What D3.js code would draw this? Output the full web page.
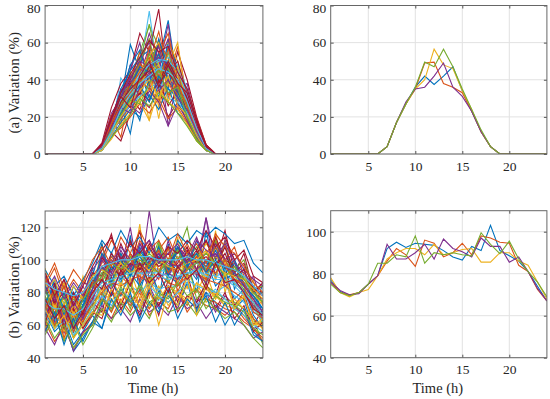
<!DOCTYPE html>
<html><head><meta charset="utf-8">
<script src="https://cdn.jsdelivr.net/npm/d3@7"></script>
<style>body{margin:0;background:#fff}svg{display:block;font-family:"Liberation Serif","Times New Roman",serif}text{fill:#262626}</style>
</head><body><svg id="c" width="550" height="399"></svg>
<script>
const hours = d3.range(1, 25);
const colors = ["#0072BD","#D95319","#EDB120","#7E2F8E","#77AC30","#4DBEEE","#A2142F"];
const xTicks = [5,10,15,20];
const yTicksA = [0,20,40,60,80];
const yTicksBL = [40,60,80,100,120];
const yTicksBR = [40,60,80,100];

// (a) many daily PV variation profiles
const seriesA = [
[0,0,0,0,0,0,3,14,28,59,45,30,50,72,38,24,12,3,0,0,0,0,0,0],
[0,0,0,0,0,0,4,20,9,35,48,62,55,40,58,30,14,2,0,0,0,0,0,0],
[0,0,0,0,0,0,2,10,25,33,40,45,19,47,30,22,10,2,0,0,0,0,0,0],
[0,0,0,0,0,0,5,18,35,30,52,60,45,70,35,38,16,4,0,0,0,0,0,0],
[0,0,0,0,0,0,3,16,22,38,55,69,58,48,42,28,8,3,0,0,0,0,0,0],
[0,0,0,0,0,0,2,12,41,33,45,77,40,60,30,24,12,2,0,0,0,0,0,0],
[0,0,0,0,0,0,6,25,38,45,65,55,78,35,55,40,20,5,0,0,0,0,0,0],
[0,0,0,0,0,0,4,15,26,11,38,49,30,62,45,26,13,3,0,0,0,0,0,0],
[0,0,0,0,0,0,3,14,32,42,30,50,66,44,36,22,11,2,0,0,0,0,0,0],
[0,0,0,0,0,0,2,13,20,30,35,28,55,60,50,33,15,3,0,0,0,0,0,0],
[0,0,0,0,0,0,5,22,30,48,42,58,50,38,47,29,17,4,0,0,0,0,0,0],
[0,0,0,0,0,0,4,17,24,36,45,40,52,55,33,19,7,2,0,0,0,0,0,0],
[0,0,0,0,0,0,3,12,30,38,46,50,52,50,44,30,15,3,0,0,0,0,0,0],
[0,0,0,0,0,0,3,12,7,22,30,25,35,20,28,18,10,3,0,0,0,0,0,0],
[0,0,0,0,0,0,2,11,23,29,18,42,35,58,30,27,11,2,0,0,0,0,0,0],
[0,0,0,0,0,0,5,21,16,40,55,45,60,52,28,35,19,5,0,0,0,0,0,0],
[0,0,0,0,0,0,3,12,28,25,40,18,50,48,60,26,13,2,0,0,0,0,0,0],
[0,0,0,0,0,0,4,17,33,45,60,36,55,15,42,30,15,3,0,0,0,0,0,0],
[0,0,0,0,0,0,3,13,18,32,50,70,45,40,30,24,9,3,0,0,0,0,0,0],
[0,0,0,0,0,0,2,10,28,35,30,45,48,42,35,28,14,2,0,0,0,0,0,0],
[0,0,0,0,0,0,4,14,22,30,24,36,28,40,26,20,12,3,0,0,0,0,0,0],
[0,0,0,0,0,0,4,18,35,45,52,56,40,50,36,25,12,3,0,0,0,0,0,0],
[0,0,0,0,0,0,3,15,30,28,43,38,62,30,45,26,13,3,0,0,0,0,0,0],
[0,0,0,0,0,0,2,9,22,36,28,52,25,56,38,22,10,2,0,0,0,0,0,0],
[0,0,0,0,0,0,5,20,28,39,47,65,50,62,32,33,16,4,0,0,0,0,0,0],
[0,0,0,0,0,0,3,14,26,44,35,48,60,38,47,25,8,2,0,0,0,0,0,0],
[0,0,0,0,0,0,3,13,32,40,44,47,50,52,48,35,16,3,0,0,0,0,0,0],
[0,0,0,0,0,0,5,18,30,40,50,38,60,44,50,32,18,5,0,0,0,0,0,0],
[0,0,0,0,0,0,3,13,27,33,41,47,36,45,27,20,11,2,0,0,0,0,0,0],
[0,0,0,0,0,0,4,18,24,31,49,40,54,65,40,29,15,3,0,0,0,0,0,0],
[0,0,0,0,0,0,2,11,19,24,30,35,29,38,33,18,9,2,0,0,0,0,0,0],
[0,0,0,0,0,0,4,16,30,42,38,55,46,50,37,27,14,3,0,0,0,0,0,0],
[0,0,0,0,0,0,3,15,33,37,50,62,40,55,39,23,9,3,0,0,0,0,0,0],
[0,0,0,0,0,0,2,12,24,28,36,40,44,30,28,22,12,2,0,0,0,0,0,0],
[0,0,0,0,0,0,3,13,20,26,33,29,40,26,34,24,14,3,0,0,0,0,0,0],
[0,0,0,0,0,0,3,16,30,48,56,38,62,46,41,24,12,3,0,0,0,0,0,0],
[0,0,0,0,0,0,3,13,21,27,34,58,42,48,31,23,12,2,0,0,0,0,0,0],
[0,0,0,0,0,0,2,12,27,34,45,53,60,35,47,27,12,3,0,0,0,0,0,0],
[0,0,0,0,0,0,4,19,34,38,46,42,58,40,36,31,15,4,0,0,0,0,0,0],
[0,0,0,0,0,0,3,14,23,30,42,47,38,50,35,21,9,2,0,0,0,0,0,0],
[0,0,0,0,0,0,2,11,30,34,41,50,44,56,39,27,14,2,0,0,0,0,0,0],
[0,0,0,0,0,0,4,17,25,38,32,48,39,44,36,27,15,4,0,0,0,0,0,0],
[0,0,0,0,0,0,3,14,25,36,47,44,54,40,33,23,11,3,0,0,0,0,0,0],
[0,0,0,0,0,0,4,17,29,37,44,52,37,57,38,28,14,3,0,0,0,0,0,0],
[0,0,0,0,0,0,2,10,24,29,38,44,48,28,42,24,11,2,0,0,0,0,0,0],
[0,0,0,0,0,0,4,18,31,41,50,47,52,48,34,30,15,3,0,0,0,0,0,0],
[0,0,0,0,0,0,3,15,27,35,39,54,44,46,37,26,8,3,0,0,0,0,0,0],
[0,0,0,0,0,0,3,12,29,33,43,48,51,50,45,32,15,3,0,0,0,0,0,0],
[0,0,0,0,0,0,5,20,33,43,52,61,55,58,44,35,19,4,0,0,0,0,0,0],
[0,0,0,0,0,0,2,9,17,24,20,32,24,36,22,17,9,2,0,0,0,0,0,0],
[0,0,0,0,0,0,3,10,14,20,27,22,30,19,25,17,8,2,0,0,0,0,0,0],
[0,0,0,0,0,0,2,8,16,22,28,18,35,28,24,16,7,2,0,0,0,0,0,0],
[0,0,0,0,0,0,3,11,19,26,22,34,28,15,27,18,9,3,0,0,0,0,0,0],
[0,0,0,0,0,0,2,9,15,21,30,26,33,28,22,15,7,2,0,0,0,0,0,0],
[0,0,0,0,0,0,2,10,20,26,31,36,38,35,30,22,12,2,0,0,0,0,0,0],
[0,0,0,0,0,0,4,15,28,35,40,45,38,50,40,30,15,4,0,0,0,0,0,0],
[0,0,0,0,0,0,3,12,22,30,37,28,42,35,31,20,10,3,0,0,0,0,0,0],
[0,0,0,0,0,0,4,16,26,33,40,35,46,32,38,25,13,3,0,0,0,0,0,0],
[0,0,0,0,0,0,2,11,20,28,34,40,30,42,26,21,10,2,0,0,0,0,0,0],
[0,0,0,0,0,0,4,14,25,22,36,44,34,40,30,24,12,3,0,0,0,0,0,0],
[0,0,0,0,0,0,3,13,21,29,27,38,45,33,36,20,8,2,0,0,0,0,0,0],
[0,0,0,0,0,0,3,12,24,32,38,42,46,44,40,28,14,3,0,0,0,0,0,0],
[0,0,0,0,0,0,5,19,31,25,42,50,36,48,38,33,17,4,0,0,0,0,0,0]
];

// (a) representative profiles
const repA = [
[0,0,0,0,0,0,4,17,27,36,42,37.5,42,47,34,23,12,4,0,0,0,0,0,0],
[0,0,0,0,0,0,4,17,27,35,49,49.5,38,36,33,23,12,4,0,0,0,0,0,0],
[0,0,0,0,0,0,4,17,27,35,40,56.5,48,46,34,24,12,4,0,0,0,0,0,0],
[0,0,0,0,0,0,4,17,28,35,36,42,49,36,31,23,12,4,0,0,0,0,0,0],
[0,0,0,0,0,0,4,17,27,36,49.5,47,56.5,47,35,24,13,4,0,0,0,0,0,0]
];

// (b) many daily load variation profiles
const seriesB = [
[85,62,80,55,78,95,72,105,85,115,80,100,75,110,88,98,80,118,90,110,82,95,70,85],
[62,50,58,46,55,62,70,64,76,68,80,66,74,70,82,68,76,72,70,66,72,64,58,52],
[95,72,85,62,90,75,110,82,98,88,122,76,106,92,114,82,104,86,118,80,100,76,88,55],
[60,75,55,70,60,66,78,70,82,74,68,84,72,80,70,86,74,80,68,78,72,66,58,60],
[78,65,72,58,68,88,95,85,102,90,98,85,110,95,105,120,90,100,95,112,85,90,78,62],
[82,78,74,72,75,82,90,94,92,93,94,96,94,93,92,92,94,94,92,90,88,84,76,70],
[65,80,58,72,62,74,68,90,72,86,70,82,66,88,74,92,70,84,78,96,72,80,60,70],
[72,58,64,48,56,66,58,80,70,76,64,82,70,78,72,86,68,80,74,60,70,76,56,50],
[72,60,68,64,70,90,78,96,90,84,100,95,88,108,80,96,102,88,112,98,86,80,70,75],
[58,82,50,78,62,80,74,88,78,94,76,90,82,88,76,84,80,92,76,88,70,80,72,60],
[92,75,88,70,84,72,104,90,95,120,86,130,90,112,94,106,90,126,88,112,100,84,90,72],
[66,60,70,52,62,72,80,68,84,70,86,74,78,80,86,100,76,84,80,76,74,70,64,48],
[80,72,70,68,72,80,88,92,90,96,92,90,94,92,88,90,92,96,90,92,86,82,74,68],
[88,72,84,66,80,84,100,116,92,104,96,110,100,92,98,108,94,112,100,118,92,104,80,84],
[68,56,62,44,52,62,74,86,78,92,84,96,80,90,86,96,88,100,84,90,76,82,66,58],
[84,95,78,88,80,90,98,112,102,96,112,100,106,114,100,110,98,104,112,100,108,90,82,78],
[62,78,58,72,64,70,84,76,68,82,74,70,84,72,80,76,86,74,80,72,70,66,60,62],
[74,66,70,62,68,82,96,86,100,92,110,98,104,90,100,94,98,126,100,108,92,86,76,64],
[66,82,64,78,70,92,86,98,104,92,100,96,112,94,106,100,108,94,102,96,90,82,74,60],
[76,70,66,64,66,74,80,84,86,84,80,86,82,84,84,88,84,82,80,84,78,74,68,64],
[90,66,86,60,80,76,102,92,110,96,118,88,102,94,108,98,106,92,114,100,96,86,80,76],
[72,88,66,84,74,90,110,86,104,90,108,96,100,92,106,94,112,98,108,94,100,88,84,66],
[56,74,52,70,58,66,76,68,80,72,82,70,78,74,80,72,82,76,74,70,68,62,58,50],
[82,70,76,64,78,86,82,96,84,102,90,108,94,100,86,104,92,106,88,110,90,94,80,72],
[58,48,62,44,56,60,72,64,70,62,76,68,72,66,78,70,74,64,72,68,64,60,52,56],
[78,58,74,52,70,66,92,84,100,80,104,82,110,86,96,90,100,84,112,90,94,100,82,84],
[84,80,78,74,76,84,92,96,96,98,98,100,98,96,96,98,98,96,94,94,90,86,80,74],
[60,78,56,70,58,68,64,82,70,78,66,80,72,84,68,78,74,86,70,80,64,72,56,62],
[94,84,90,78,88,98,112,104,118,108,114,104,120,112,116,110,118,114,120,116,110,112,98,92],
[64,70,60,66,62,74,80,86,84,88,90,86,92,86,84,90,92,88,86,84,80,76,64,58],
[80,88,72,84,76,88,96,90,100,94,104,92,98,100,96,104,100,110,102,98,94,90,78,74],
[70,62,66,58,64,76,88,82,92,86,96,82,90,92,88,96,92,86,98,84,88,80,72,66],
[54,66,50,62,48,58,70,62,74,66,72,64,78,68,70,74,66,76,70,64,68,60,52,46],
[68,64,62,60,66,74,84,86,88,90,92,90,90,88,90,92,94,90,88,88,84,78,70,62],
[84,74,80,68,76,92,90,104,96,112,94,108,98,104,96,100,104,112,96,108,92,98,82,80],
[74,84,70,80,72,88,94,100,88,96,102,94,108,90,112,104,100,96,106,92,98,84,78,70],
[76,60,72,56,66,78,96,100,90,104,86,98,92,108,84,94,100,92,108,96,88,84,68,64],
[62,72,56,68,60,70,82,74,86,78,72,88,76,84,80,74,86,82,78,72,76,70,62,58],
[90,78,84,74,86,84,100,92,106,94,110,100,104,96,108,102,114,98,110,100,104,94,88,84],
[72,80,68,76,70,86,92,98,94,102,96,104,98,96,102,98,104,100,96,100,92,88,80,74],
[66,58,62,54,60,70,78,72,82,76,70,84,78,74,80,86,72,78,82,76,70,66,60,56],
[60,86,58,80,66,88,82,96,90,98,94,102,96,100,92,106,98,102,96,104,90,94,80,86],
[84,64,80,58,72,82,104,94,100,90,106,96,102,94,108,96,104,92,100,88,92,84,78,70],
[70,82,64,78,68,86,88,102,94,100,92,98,106,92,100,94,102,96,92,100,88,86,74,66],
[88,70,86,66,80,90,94,90,98,92,96,94,100,96,94,98,100,106,96,92,90,88,82,76],
[66,78,62,74,64,82,96,90,102,96,98,92,104,98,96,102,94,100,104,96,92,84,76,68],
[82,66,78,60,76,84,90,98,94,100,104,96,92,100,106,94,98,104,98,90,96,88,80,74],
[74,70,70,66,70,78,86,88,90,92,92,92,92,90,90,92,92,92,90,88,86,80,74,66],
[92,78,88,72,84,96,106,114,100,110,104,112,100,108,104,112,106,118,108,114,100,106,90,86],
[56,68,48,64,50,62,58,76,66,80,62,74,68,82,64,76,70,78,62,74,60,70,54,50],
[86,98,82,94,86,100,108,96,114,104,118,106,112,100,116,104,110,98,116,108,104,96,86,80],
[70,58,66,52,60,68,66,82,74,88,70,84,60,80,72,90,66,84,76,92,70,78,60,64],
[80,90,76,86,78,94,102,98,108,100,106,112,98,104,110,98,112,106,102,110,98,92,84,78],
[64,52,60,46,54,60,76,70,82,74,84,72,80,76,86,78,82,70,78,74,72,68,58,54],
[86,82,80,78,80,88,96,98,100,100,102,102,100,100,100,102,100,100,98,96,94,90,84,78],
[76,64,72,58,68,80,88,78,94,84,98,86,92,80,96,88,94,82,98,86,88,80,70,66]
];

// (b) representative profiles
const repB = [
[77,71.5,69.5,71,75,79,92,95,92.5,94.5,94,93.5,91,88,86.5,93,91,103,91,88.5,86,81,74,67],
[76,71,70,71,75,79,86,92,89,83.5,96,94.5,88,90,94.5,89,98,97,95,94.5,84,81,72.5,67],
[78,71,69,71,72.5,79,87,90,92,92,89,94,89,90,91.5,92,85.5,85.5,90,90,86,84,76,68],
[76,72,70,70.5,75,79,94,87,87,90,94,87,96.5,92,90.5,88,97,93,93,85.5,88,81,73,67],
[75,71,69.5,71,75,85,85,89,88,98,85,90,89,90,89,88.5,99.5,94,89.5,95.5,87,81,76,69]
];

const svg = d3.select("#c");
const FONT = "Liberation Serif, Times New Roman, serif";
const panels = [
  {x0:45.1, x1:262.9, y0:5.5, y1:154, dom:[0,80], ticks:yTicksA, data:seriesA, xlab:false, ylab:"(a) Variation (%)"},
  {x0:330.7, x1:546.9, y0:5.5, y1:154, dom:[0,80], ticks:yTicksA, data:repA, xlab:false, ylab:null},
  {x0:45.1, x1:262.9, y0:211, y1:357.7, dom:[40,130], ticks:yTicksBL, data:seriesB, xlab:true, ylab:"(b) Variation (%)"},
  {x0:330.7, x1:546.9, y0:210.7, y1:357.7, dom:[40,110], ticks:yTicksBR, data:repB, xlab:true, ylab:null}
];

panels.forEach((p, pi) => {
  const x = d3.scaleLinear().domain([1,24]).range([p.x0, p.x1]);
  const y = d3.scaleLinear().domain(p.dom).range([p.y1, p.y0]);
  const g = svg.append("g");
  // grid
  g.append("g").selectAll("line").data(xTicks).join("line")
    .attr("x1", d=>x(d)).attr("x2", d=>x(d)).attr("y1", p.y0).attr("y2", p.y1)
    .attr("stroke", "#e2e2e2").attr("stroke-width", 1);
  g.append("g").selectAll("line").data(p.ticks).join("line")
    .attr("x1", p.x0).attr("x2", p.x1).attr("y1", d=>y(d)).attr("y2", d=>y(d))
    .attr("stroke", "#e2e2e2").attr("stroke-width", 1);
  // lines
  const line = d3.line().x((d,i)=>x(hours[i])).y(d=>y(d));
  const clipId = "clip" + pi;
  svg.append("clipPath").attr("id", clipId).append("rect")
    .attr("x", p.x0).attr("y", p.y0).attr("width", p.x1-p.x0).attr("height", p.y1-p.y0);
  g.append("g").attr("clip-path", `url(#${clipId})`).selectAll("path").data(p.data).join("path")
    .attr("d", d=>line(d)).attr("fill", "none")
    .attr("stroke", (d,i)=>colors[i % colors.length]).attr("stroke-width", 1.1)
    .attr("stroke-linejoin", "miter");
  // axes with inward ticks on all sides
  const axB = d3.axisBottom(x).tickValues(xTicks).tickSizeInner(-3).tickSizeOuter(0).tickPadding(7);
  const axT = d3.axisTop(x).tickValues(xTicks).tickSizeInner(-3).tickSizeOuter(0).tickFormat("");
  const axL = d3.axisLeft(y).tickValues(p.ticks).tickSizeInner(-3).tickSizeOuter(0).tickPadding(4.5);
  const axR = d3.axisRight(y).tickValues(p.ticks).tickSizeInner(-3).tickSizeOuter(0).tickFormat("");
  [[axB,`translate(0,${p.y1})`],[axT,`translate(0,${p.y0})`],[axL,`translate(${p.x0},0)`],[axR,`translate(${p.x1},0)`]].forEach(([ax,t])=>{
    const a = g.append("g").attr("transform", t).call(ax);
    a.attr("font-family", FONT);
    a.select(".domain").remove();
    a.selectAll(".tick line").attr("stroke", "#555");
    a.selectAll("text").attr("font-size", 13.5).attr("font-family", FONT).attr("fill", "#262626");
  });
  // keep the top-most tick label inside the page
  g.selectAll(".tick").filter(d => p.dom[1] === d && y(d) < 10).select("text").attr("dy", "0.5em");
  g.append("rect").attr("x", p.x0).attr("y", p.y0).attr("width", p.x1-p.x0).attr("height", p.y1-p.y0)
    .attr("fill", "none").attr("stroke", "#666").attr("stroke-width", 1);
  if (p.xlab) {
    g.append("text").attr("x", (p.x0+p.x1)/2 - 1).attr("y", 393).attr("text-anchor", "middle")
      .attr("font-family", FONT).attr("font-size", 14.5).text("Time (h)");
  }
  if (p.ylab) {
    g.append("text").attr("transform", `translate(14,${(p.y0+p.y1)/2 + 3}) rotate(-90)`)
      .attr("text-anchor", "middle").attr("dominant-baseline", "central")
      .attr("font-family", FONT).attr("font-size", 15).text(p.ylab);
  }
});
</script></body></html>
